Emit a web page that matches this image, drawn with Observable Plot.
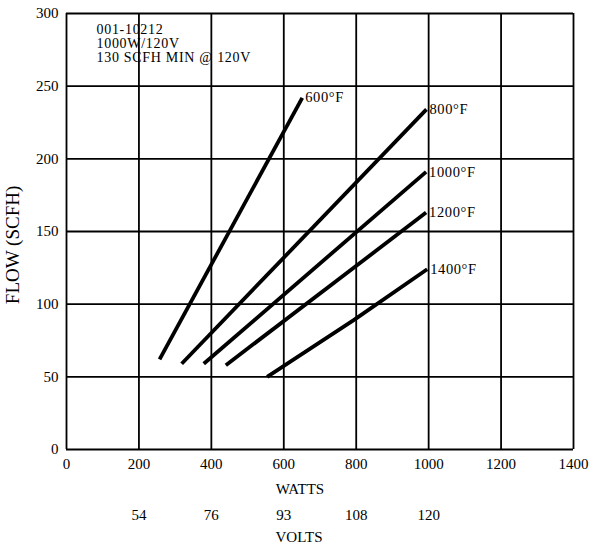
<!DOCTYPE html>
<html>
<head>
<meta charset="utf-8">
<script src="https://cdn.jsdelivr.net/npm/d3@7"></script>
<script src="https://cdn.jsdelivr.net/npm/@observablehq/plot@0.6"></script>
<style>
  html, body { margin: 0; padding: 0; background: #fff; }
  .note text { letter-spacing: 0.7px; }
  .lbl text { letter-spacing: 0.6px; }
</style>
</head>
<body>
<div id="chart"></div>
<script>
// Data
const series = ["600°F", "800°F", "1000°F", "1200°F", "1400°F"];
const watts600 = [257, 651];   const flow600 = [62, 242];
const watts800 = [318, 994];   const flow800 = [59, 234];
const watts1000 = [379, 993];  const flow1000 = [59, 191];
const watts1200 = [440, 993];  const flow1200 = [58, 163];
const watts1400 = [554, 793, 996]; const flow1400 = [50, 89, 124];

const xTicks = [0, 200, 400, 600, 800, 1000, 1200, 1400];
const yTicks = [0, 50, 100, 150, 200, 250, 300];
const voltWatts = [200, 400, 600, 800, 1000];
const voltLabels = ["54", "76", "93", "108", "120"];
const noteLines = ["001-10212", "1000W/120V", "130 SCFH MIN @ 120V"];

const wattsArr = [watts600, watts800, watts1000, watts1200, watts1400];
const flowArr = [flow600, flow800, flow1000, flow1200, flow1400];
const pts = [];
series.forEach((s, i) => wattsArr[i].forEach((w, j) => pts.push({series: s, watts: w, flow: flowArr[i][j]})));
const ends = series.map((s, i) => ({series: s, watts: wattsArr[i][wattsArr[i].length - 1], flow: flowArr[i][flowArr[i].length - 1]}));

const chart = Plot.plot({
  width: 597,
  height: 551,
  marginLeft: 66,
  marginRight: 24,
  marginTop: 13,
  marginBottom: 102,
  style: {fontFamily: "'Liberation Serif', 'Times New Roman', serif", fontSize: "15px", color: "#000", background: "#fff"},
  x: {domain: [0, 1400]},
  y: {domain: [0, 300]},
  marks: [
    Plot.ruleX(xTicks, {stroke: "#000", strokeWidth: 1.8}),
    Plot.ruleY(yTicks, {stroke: "#000", strokeWidth: 1.8}),
    Plot.axisX({ticks: xTicks, tickFormat: d => String(d), tickSize: 0, tickPadding: 9, label: null, fontSize: 15}),
    Plot.axisY({ticks: yTicks, tickFormat: d => String(d), tickSize: 0, tickPadding: 8, label: null, fontSize: 15}),
    Plot.line(pts, {x: "watts", y: "flow", z: "series", stroke: "#000", strokeWidth: 3.8, strokeLinecap: "butt"}),
    Plot.text(ends, {x: "watts", y: "flow", text: "series", textAnchor: "start", dx: 3, fontSize: 14.5, className: "lbl"}),
    Plot.text([noteLines[0]], {frameAnchor: "top-left", dx: 30, dy: 11, lineAnchor: "top", fontSize: 14, className: "note"}),
    Plot.text([noteLines[1]], {frameAnchor: "top-left", dx: 30, dy: 25, lineAnchor: "top", fontSize: 14, className: "note"}),
    Plot.text([noteLines[2]], {frameAnchor: "top-left", dx: 30, dy: 39, lineAnchor: "top", fontSize: 14, className: "note"}),
    Plot.text(voltLabels, {x: (d, i) => voltWatts[i], text: d => d, frameAnchor: "bottom", dy: 70, fontSize: 15}),
    Plot.text(["WATTS"], {frameAnchor: "bottom", dx: -20, dy: 44, fontSize: 15}),
    Plot.text(["VOLTS"], {frameAnchor: "bottom", dx: -21, dy: 92, fontSize: 15}),
    Plot.text(["FLOW (SCFH)"], {y: () => 100, frameAnchor: "left", dx: -54, rotate: -90, fontSize: 19})
  ]
});
document.getElementById("chart").appendChild(chart);
</script>
</body>
</html>
